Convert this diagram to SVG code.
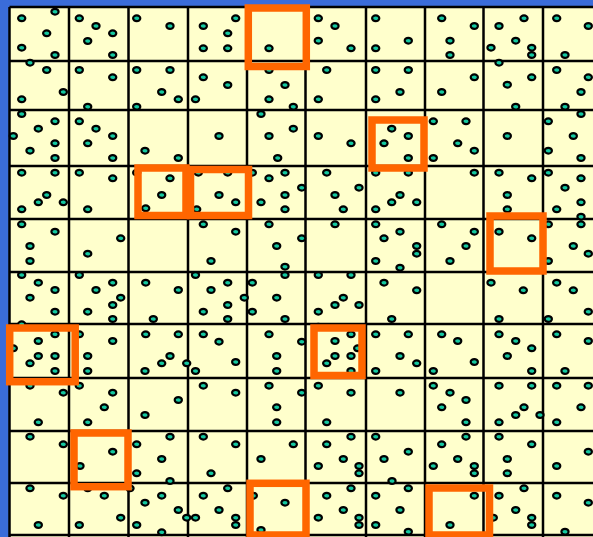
<svg xmlns="http://www.w3.org/2000/svg" xmlns:xlink="http://www.w3.org/1999/xlink" width="593" height="537" viewBox="0 0 593 537">
<style>
.bg{fill:#3a6cd9}
.field{fill:#ffffcc}
.grid{fill:none;stroke:#000;stroke-width:2.5}
.hl{fill:none;stroke:#ff6600;stroke-width:7.5}
</style>
<defs>
<ellipse id="d" cx="0" cy="0" rx="3.6" ry="2.9" fill="#14c8a0" stroke="#000" stroke-width="2.2"/>
</defs>
<rect class="bg" x="0" y="0" width="593" height="537"/>
<rect class="field" x="9.5" y="7" width="590" height="535"/>
<g id="grid">
<path class="grid" d="M9.5,7V540M69,7V540M128.5,7V540M188,7V540M247,7V540M305.5,7V540M366,7V540M425,7V540M483.5,7V540M543,7V540M9.5,7H600M9.5,61H600M9.5,110H600M9.5,166H600M9.5,219H600M9.5,272H600M9.5,324H600M9.5,378H600M9.5,431H600M9.5,483H600M9.5,535H600"/>
</g>
<g id="dots">
<use href="#d" x="21.7" y="18.3"/><use href="#d" x="55" y="11.7"/><use href="#d" x="46.7" y="33.3"/><use href="#d" x="21.7" y="47.7"/><use href="#d" x="55" y="55"/>
<use href="#d" x="79.3" y="18.3"/><use href="#d" x="96" y="26"/><use href="#d" x="112.7" y="33.3"/><use href="#d" x="87.7" y="41"/><use href="#d" x="112.7" y="55"/>
<use href="#d" x="136.7" y="18.3"/><use href="#d" x="170" y="26"/>
<use href="#d" x="235.7" y="18.3"/><use href="#d" x="203.3" y="26"/><use href="#d" x="227.7" y="33.3"/><use href="#d" x="203.3" y="48.3"/><use href="#d" x="227.7" y="48.3"/>
<use href="#d" x="269" y="48.3"/>
<use href="#d" x="318.3" y="18.3"/><use href="#d" x="335" y="26"/><use href="#d" x="318.3" y="40.7"/><use href="#d" x="351" y="48.3"/>
<use href="#d" x="375.7" y="18.3"/><use href="#d" x="375.7" y="48.3"/><use href="#d" x="408.3" y="40.7"/>
<use href="#d" x="441.7" y="18.3"/><use href="#d" x="474.3" y="26"/><use href="#d" x="450" y="40.7"/><use href="#d" x="450" y="55"/>
<use href="#d" x="499" y="26"/><use href="#d" x="524" y="18.3"/><use href="#d" x="515.7" y="40.7"/><use href="#d" x="491" y="47.7"/><use href="#d" x="531.7" y="47.7"/><use href="#d" x="531.7" y="55"/>
<use href="#d" x="556.7" y="18.3"/><use href="#d" x="588.3" y="26"/><use href="#d" x="565" y="55"/>

<use href="#d" x="30" y="62.7"/><use href="#d" x="46.7" y="70"/><use href="#d" x="63.3" y="92"/><use href="#d" x="21.7" y="99.3"/>
<use href="#d" x="79.3" y="70"/><use href="#d" x="112.7" y="77.3"/><use href="#d" x="87.7" y="106.7"/>
<use href="#d" x="136.7" y="70"/><use href="#d" x="170" y="70"/><use href="#d" x="161.7" y="92"/><use href="#d" x="178.3" y="99.3"/><use href="#d" x="136.7" y="106.7"/>
<use href="#d" x="195.5" y="99.3"/><use href="#d" x="203.3" y="77.3"/><use href="#d" x="227.7" y="85"/>
<use href="#d" x="269" y="70"/><use href="#d" x="285" y="85"/><use href="#d" x="269" y="99.3"/><use href="#d" x="293.3" y="106.7"/>
<use href="#d" x="326.7" y="70"/><use href="#d" x="318.3" y="99.3"/>
<use href="#d" x="375.7" y="70"/><use href="#d" x="375.7" y="99.3"/><use href="#d" x="408.3" y="70"/><use href="#d" x="400" y="92"/>
<use href="#d" x="474.3" y="77.3"/><use href="#d" x="441.7" y="92"/>
<use href="#d" x="499" y="62.7"/><use href="#d" x="531.7" y="77.3"/><use href="#d" x="507.3" y="84.7"/><use href="#d" x="515.7" y="106.7"/>
<use href="#d" x="556.7" y="70"/><use href="#d" x="588.3" y="77.3"/><use href="#d" x="581" y="92"/><use href="#d" x="565" y="106.7"/>

<use href="#d" x="21.7" y="114"/><use href="#d" x="55" y="121.3"/><use href="#d" x="38.3" y="128.7"/><use href="#d" x="13.3" y="136"/><use href="#d" x="55" y="143.3"/><use href="#d" x="30" y="150.7"/><use href="#d" x="55" y="158"/>
<use href="#d" x="79.3" y="121.3"/><use href="#d" x="96" y="128.7"/><use href="#d" x="112.7" y="136"/><use href="#d" x="87.7" y="143.3"/><use href="#d" x="112.7" y="158"/>
<use href="#d" x="145" y="150.7"/><use href="#d" x="178.3" y="158"/>
<use href="#d" x="219" y="136"/>
<use href="#d" x="261" y="114"/><use href="#d" x="293.3" y="128.7"/><use href="#d" x="269" y="136"/><use href="#d" x="277.7" y="158"/>
<use href="#d" x="318.3" y="136"/><use href="#d" x="351" y="143.3"/>
<use href="#d" x="391.7" y="128.7"/><use href="#d" x="384" y="143.3"/><use href="#d" x="408.3" y="136"/><use href="#d" x="408.3" y="158"/>
<use href="#d" x="433.3" y="121.3"/><use href="#d" x="466" y="121.3"/><use href="#d" x="457.7" y="143.3"/><use href="#d" x="474.3" y="150.7"/><use href="#d" x="433.3" y="158"/>
<use href="#d" x="507.3" y="136"/>
<use href="#d" x="548.3" y="121.3"/><use href="#d" x="581" y="114"/><use href="#d" x="573.3" y="136"/><use href="#d" x="548.3" y="150.7"/><use href="#d" x="581" y="158"/>

<use href="#d" x="21.7" y="172.7"/><use href="#d" x="55" y="172.7"/><use href="#d" x="46.7" y="195"/><use href="#d" x="38.3" y="202.3"/><use href="#d" x="63.3" y="202.3"/><use href="#d" x="21.7" y="209.3"/>
<use href="#d" x="79.3" y="172.7"/><use href="#d" x="112.7" y="178.3"/><use href="#d" x="87.7" y="209.3"/>
<use href="#d" x="136.7" y="172.7"/><use href="#d" x="170" y="178.3"/><use href="#d" x="161.7" y="195"/><use href="#d" x="145.7" y="208.3"/>
<use href="#d" x="198.3" y="172.7"/><use href="#d" x="227.7" y="172.7"/><use href="#d" x="219" y="195"/><use href="#d" x="235.7" y="202.3"/><use href="#d" x="196.7" y="209.3"/>
<use href="#d" x="252.3" y="172.7"/><use href="#d" x="269" y="178.3"/><use href="#d" x="285" y="172.7"/><use href="#d" x="285" y="195"/><use href="#d" x="261" y="202.3"/><use href="#d" x="285" y="209.3"/><use href="#d" x="301.7" y="187.7"/>
<use href="#d" x="326.7" y="172.7"/><use href="#d" x="335" y="195"/><use href="#d" x="343.3" y="209.3"/><use href="#d" x="359" y="187.7"/>
<use href="#d" x="375.7" y="172.7"/><use href="#d" x="375.7" y="209.3"/><use href="#d" x="391.7" y="202.3"/>
<use href="#d" x="408.3" y="172.7"/><use href="#d" x="400" y="195"/><use href="#d" x="416.7" y="202.3"/>
<use href="#d" x="474.3" y="172.7"/>
<use href="#d" x="499" y="172.7"/><use href="#d" x="531.7" y="178.3"/><use href="#d" x="507.3" y="195"/><use href="#d" x="507.3" y="209.3"/>
<use href="#d" x="548.3" y="172.7"/><use href="#d" x="581" y="178.3"/><use href="#d" x="565" y="187.7"/><use href="#d" x="581" y="202.3"/><use href="#d" x="556.7" y="209.3"/><use href="#d" x="581" y="216.7"/>

<use href="#d" x="21.7" y="224.3"/><use href="#d" x="55" y="231.7"/><use href="#d" x="30" y="246"/><use href="#d" x="30" y="261"/>
<use href="#d" x="120.7" y="238.3"/><use href="#d" x="87.7" y="253.7"/>
<use href="#d" x="203.3" y="224.3"/><use href="#d" x="235.7" y="231.7"/><use href="#d" x="211" y="261"/>
<use href="#d" x="269" y="224.3"/><use href="#d" x="301.7" y="238.3"/><use href="#d" x="276.7" y="246"/><use href="#d" x="285" y="266.7"/>
<use href="#d" x="335" y="224.3"/>
<use href="#d" x="375.7" y="224.3"/><use href="#d" x="384" y="238.3"/><use href="#d" x="375.7" y="261"/>
<use href="#d" x="400" y="231.7"/><use href="#d" x="416.7" y="246"/><use href="#d" x="416.7" y="253.7"/><use href="#d" x="400" y="267.7"/>
<use href="#d" x="441.7" y="224.3"/><use href="#d" x="474.3" y="231.7"/><use href="#d" x="466" y="246"/><use href="#d" x="450" y="261"/>
<use href="#d" x="499" y="231.7"/><use href="#d" x="531.7" y="238.3"/>
<use href="#d" x="548.3" y="224.3"/><use href="#d" x="581" y="224.3"/><use href="#d" x="573.3" y="246"/><use href="#d" x="588.3" y="253.7"/><use href="#d" x="548.3" y="261"/>

<use href="#d" x="21.7" y="275"/><use href="#d" x="38.3" y="282.7"/><use href="#d" x="55" y="290"/><use href="#d" x="30" y="297.7"/><use href="#d" x="55" y="311.7"/>
<use href="#d" x="79.3" y="275"/><use href="#d" x="112.7" y="282.7"/><use href="#d" x="96" y="290"/><use href="#d" x="120.7" y="297.7"/><use href="#d" x="112.7" y="305"/><use href="#d" x="87.7" y="311.7"/><use href="#d" x="112.7" y="319"/>
<use href="#d" x="145.7" y="282.7"/><use href="#d" x="178.3" y="290"/><use href="#d" x="153.3" y="319"/>
<use href="#d" x="195.5" y="275"/><use href="#d" x="227.7" y="282.7"/><use href="#d" x="211" y="290"/><use href="#d" x="244.3" y="297.7"/><use href="#d" x="227.7" y="305"/><use href="#d" x="203.3" y="311.7"/><use href="#d" x="227.7" y="319"/>
<use href="#d" x="285" y="275"/><use href="#d" x="252.3" y="282.7"/><use href="#d" x="276.7" y="297.7"/><use href="#d" x="252.3" y="311.7"/><use href="#d" x="285" y="319"/>
<use href="#d" x="318.3" y="275"/><use href="#d" x="351" y="275"/><use href="#d" x="343.3" y="297.7"/><use href="#d" x="335" y="305"/><use href="#d" x="359" y="305"/><use href="#d" x="318.3" y="311.7"/>
<use href="#d" x="384" y="282.7"/><use href="#d" x="391.7" y="319"/>
<use href="#d" x="416.7" y="290.3"/>
<use href="#d" x="491" y="282.7"/><use href="#d" x="523.3" y="290.3"/><use href="#d" x="499" y="319"/>
<use href="#d" x="556.7" y="282.7"/><use href="#d" x="573.3" y="290.3"/><use href="#d" x="588.3" y="311.7"/><use href="#d" x="548.3" y="319"/>

<use href="#d" x="21.7" y="324.3"/><use href="#d" x="55" y="334.3"/><use href="#d" x="38.3" y="341"/><use href="#d" x="13.3" y="348.3"/><use href="#d" x="38.3" y="356"/><use href="#d" x="55" y="356"/><use href="#d" x="30" y="363.3"/><use href="#d" x="55" y="371"/>
<use href="#d" x="79.3" y="334.3"/><use href="#d" x="112.7" y="341"/><use href="#d" x="87.7" y="356"/><use href="#d" x="87.7" y="371"/>
<use href="#d" x="145.7" y="334.3"/><use href="#d" x="178.3" y="334.3"/><use href="#d" x="170" y="356"/><use href="#d" x="161.7" y="363.3"/><use href="#d" x="145" y="371"/><use href="#d" x="186.7" y="363.3"/><use href="#d" x="195.5" y="371"/>
<use href="#d" x="203.3" y="334.3"/><use href="#d" x="219" y="341.7"/><use href="#d" x="235.7" y="362"/>
<use href="#d" x="269" y="334.3"/><use href="#d" x="301.7" y="341.7"/><use href="#d" x="276.7" y="356"/><use href="#d" x="276.7" y="371"/>
<use href="#d" x="318.3" y="326.7"/><use href="#d" x="351" y="334.3"/><use href="#d" x="335" y="341"/><use href="#d" x="357.7" y="348.3"/><use href="#d" x="335" y="356"/><use href="#d" x="351" y="356"/><use href="#d" x="326.7" y="363.3"/><use href="#d" x="351" y="371"/>
<use href="#d" x="375.7" y="334.3"/><use href="#d" x="375.7" y="371"/>
<use href="#d" x="408.3" y="334.3"/><use href="#d" x="400" y="356"/><use href="#d" x="416.7" y="363.3"/><use href="#d" x="433.3" y="371"/>
<use href="#d" x="441.7" y="334.3"/><use href="#d" x="457.7" y="341"/><use href="#d" x="474.3" y="362"/>
<use href="#d" x="499" y="334.3"/><use href="#d" x="515.7" y="341"/><use href="#d" x="531.7" y="348.3"/><use href="#d" x="507.3" y="356"/><use href="#d" x="531.7" y="371"/>
<use href="#d" x="556.7" y="334.3"/><use href="#d" x="588.3" y="341"/><use href="#d" x="565" y="371"/>

<use href="#d" x="30" y="385.7"/><use href="#d" x="63.3" y="392.7"/><use href="#d" x="38.3" y="422.3"/>
<use href="#d" x="79.3" y="385.7"/><use href="#d" x="112.7" y="392.7"/><use href="#d" x="104.3" y="407.3"/><use href="#d" x="87.7" y="422.3"/>
<use href="#d" x="178.3" y="400"/><use href="#d" x="145" y="415"/>
<use href="#d" x="203.3" y="385.7"/><use href="#d" x="235.7" y="392.7"/>
<use href="#d" x="269" y="385.7"/><use href="#d" x="301.7" y="392.7"/><use href="#d" x="276.7" y="407.3"/><use href="#d" x="276.7" y="422.3"/>
<use href="#d" x="318.3" y="385.7"/><use href="#d" x="351" y="392.7"/><use href="#d" x="326.7" y="422.3"/>
<use href="#d" x="400" y="392.7"/>
<use href="#d" x="433.3" y="385.7"/><use href="#d" x="450" y="392.7"/><use href="#d" x="466" y="400"/><use href="#d" x="441.7" y="407.3"/><use href="#d" x="466" y="422.3"/>
<use href="#d" x="499" y="385.7"/><use href="#d" x="531.7" y="385.7"/><use href="#d" x="524" y="407.3"/><use href="#d" x="515.7" y="415"/><use href="#d" x="540" y="415"/><use href="#d" x="499" y="422.3"/>
<use href="#d" x="556.7" y="385.7"/><use href="#d" x="588.3" y="385.7"/><use href="#d" x="581" y="407.3"/><use href="#d" x="556.7" y="422.3"/>

<use href="#d" x="30" y="436.7"/><use href="#d" x="63.3" y="444.3"/>
<use href="#d" x="112.7" y="451.7"/><use href="#d" x="80" y="466"/>
<use href="#d" x="136.7" y="444.3"/><use href="#d" x="170" y="436.7"/><use href="#d" x="161.7" y="459"/><use href="#d" x="136.7" y="473.3"/><use href="#d" x="170" y="481"/>
<use href="#d" x="203.3" y="436.7"/><use href="#d" x="235.7" y="444.3"/><use href="#d" x="211" y="473.3"/>
<use href="#d" x="293.3" y="444.3"/><use href="#d" x="261" y="459"/>
<use href="#d" x="351" y="436.7"/><use href="#d" x="326.7" y="444.3"/><use href="#d" x="343.3" y="459"/><use href="#d" x="318.3" y="466"/><use href="#d" x="359" y="466"/><use href="#d" x="359" y="473.3"/>
<use href="#d" x="375.7" y="436.7"/><use href="#d" x="384" y="459"/><use href="#d" x="392" y="481"/>
<use href="#d" x="408.3" y="451.7"/>
<use href="#d" x="466" y="436.7"/><use href="#d" x="441.7" y="444.3"/><use href="#d" x="457.7" y="459"/><use href="#d" x="433.3" y="466"/><use href="#d" x="474.3" y="466"/><use href="#d" x="474.3" y="473.3"/>
<use href="#d" x="499" y="436.7"/><use href="#d" x="531.7" y="444.3"/><use href="#d" x="507.3" y="459"/><use href="#d" x="507.3" y="473.3"/>
<use href="#d" x="588.3" y="451.7"/><use href="#d" x="556.7" y="466"/>

<use href="#d" x="30" y="488.3"/><use href="#d" x="63.3" y="495.7"/><use href="#d" x="38.3" y="525"/>
<use href="#d" x="104.3" y="495.7"/><use href="#d" x="87.7" y="488.3"/><use href="#d" x="120.7" y="517.7"/><use href="#d" x="79.3" y="525"/><use href="#d" x="130" y="488.3"/>
<use href="#d" x="161.7" y="495.7"/><use href="#d" x="145" y="502.7"/><use href="#d" x="178.3" y="510"/><use href="#d" x="136.7" y="525"/><use href="#d" x="161.7" y="532.3"/><use href="#d" x="186.7" y="517.7"/><use href="#d" x="195.5" y="517.7"/>
<use href="#d" x="203.3" y="495.7"/><use href="#d" x="227.7" y="488.3"/><use href="#d" x="219" y="510"/><use href="#d" x="235.7" y="517.7"/><use href="#d" x="235.7" y="525"/>
<use href="#d" x="253.3" y="495.7"/><use href="#d" x="285" y="502.7"/><use href="#d" x="261" y="530"/>
<use href="#d" x="326.7" y="495.7"/><use href="#d" x="351" y="488.3"/><use href="#d" x="343.3" y="510"/><use href="#d" x="318.3" y="517.7"/><use href="#d" x="359" y="517.7"/><use href="#d" x="359" y="525"/>
<use href="#d" x="375.7" y="495.7"/><use href="#d" x="375.7" y="525"/>
<use href="#d" x="408.3" y="488.3"/><use href="#d" x="400" y="510"/><use href="#d" x="408.3" y="531.7"/>
<use href="#d" x="474.3" y="495.7"/><use href="#d" x="450" y="525"/>
<use href="#d" x="499" y="495.7"/><use href="#d" x="524" y="488.3"/><use href="#d" x="515.7" y="510"/><use href="#d" x="531.7" y="517.7"/><use href="#d" x="531.7" y="525"/><use href="#d" x="493.3" y="517.7"/>
<use href="#d" x="556.7" y="495.7"/><use href="#d" x="588.3" y="502.7"/><use href="#d" x="565" y="531.7"/>
</g>
<g id="highlights">
<rect class="hl" x="248.3" y="8" width="58" height="58.5"/>
<rect class="hl" x="372" y="120" width="52" height="48"/>
<rect class="hl" x="138" y="168" width="48" height="47.5"/>
<rect class="hl" x="190.5" y="169.5" width="58" height="46"/>
<rect class="hl" x="490" y="216" width="53" height="55"/>
<rect class="hl" x="9.7" y="328" width="65.5" height="53.7"/>
<rect class="hl" x="314" y="328" width="48" height="47.5"/>
<rect class="hl" x="74" y="433" width="54" height="53.7"/>
<rect class="hl" x="250" y="483.3" width="56" height="51.7"/>
<rect class="hl" x="429" y="488" width="60.5" height="47"/>
</g>
</svg>
